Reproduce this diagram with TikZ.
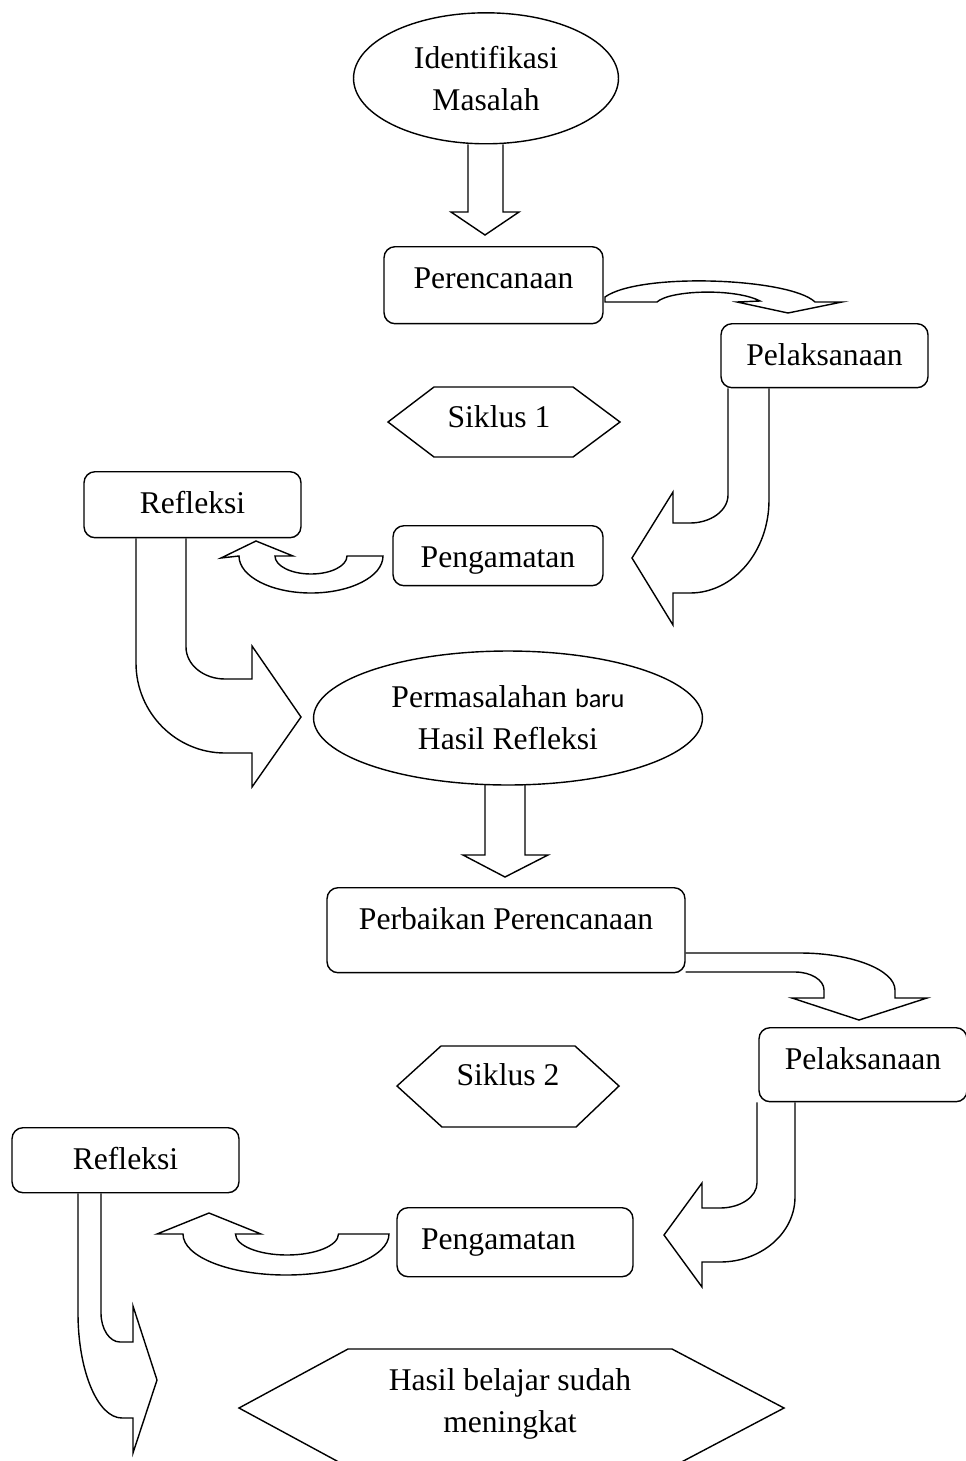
\documentclass[tikz,border=0pt]{standalone}
\usepackage{fontspec}
\setmainfont{Liberation Serif}
\newfontfamily\carlitofont{Carlito}
\usetikzlibrary{shapes.geometric}

\begin{document}
\begin{tikzpicture}[x=0.02cm,y=-0.02cm,line width=0.8pt,
  font=\fontsize{18}{23.9}\selectfont,
  box/.style={draw,rounded corners=0.22cm,anchor=north,inner sep=0pt,text height=0.84cm},
  oval/.style={draw,ellipse,inner sep=0pt,align=center},
  blockarrow/.style={draw,line join=miter}]
\useasboundingbox (0,0) rectangle (966,1461);

% siklus 1
\node[oval,minimum width=5.3cm,minimum height=2.62cm] (ident) at (486,78.3) {Identifikasi\\Masalah};
\node[box,minimum width=4.38cm,text depth=0.70cm] (plan1) at (493.5,246) {Perencanaan};
\node[box,minimum width=4.14cm,text depth=0.44cm] (pel1) at (824.5,323) {Pelaksanaan};
\draw (388,422) -- (434,387) -- (573,387) -- (620,422) -- (573,457) -- (434,457) -- cycle;
\node[anchor=base] (siklus1) at (499,427) {Siklus 1};
\node[box,minimum width=4.34cm,text depth=0.48cm] (refl1) at (192.5,471) {Refleksi};
\node[box,minimum width=4.2cm,text depth=0.36cm] (peng1) at (498,525) {Pengamatan};
\node[oval,minimum width=7.78cm,minimum height=2.68cm] (perm) at (508,718) {Permasalahan {\carlitofont\fontsize{15}{23.9}\selectfont baru}\\Hasil Refleksi};

% siklus 2
\node[box,minimum width=7.16cm,text depth=0.86cm] (perb) at (506,887) {Perbaikan Perencanaan};
\node[box,minimum width=4.16cm,text depth=0.64cm] (pel2) at (863,1027) {Pelaksanaan};
\draw (397,1086) -- (441,1046) -- (575,1046) -- (619,1086) -- (576,1127) -- (442,1127) -- cycle;
\node[anchor=base] (siklus2) at (508,1085) {Siklus 2};
\node[box,minimum width=4.54cm,text depth=0.46cm] (refl2) at (125.5,1127) {Refleksi};
\node[box,text width=3.76cm,align=left,inner xsep=0.48cm,text depth=0.54cm] (peng2) at (515,1207) {Pengamatan};
\draw (239,1408) -- (348,1349) -- (672,1349) -- (784,1408) -- (672,1467) -- (348,1467) -- cycle;
\node[align=center] (hasil) at (510,1403.7) {Hasil belajar sudah\\meningkat};

% block arrows
\draw[blockarrow] (468,0 |- ident.south) -- (468,212) -- (451,212) -- (485,235) -- (519,212) -- (503,212) -- (503,0 |- ident.south);
\draw[blockarrow] (605,302) -- (657,302) .. controls (670,290) and (735,288) .. (760,301) -- (737,302) -- (788,313) -- (842,302) -- (815,302) .. controls (790,278) and (640,272) .. (605,297) -- cycle;
\draw[blockarrow] (728,0 |- pel1.south) -- (728,495) .. controls (728,510.5) and (711,523) .. (690,523) -- (673,523) -- (673,492) -- (632,558) -- (673,625) -- (673,593) -- (690,593) .. controls (733.6,593) and (769,551.3) .. (769,500) -- (769,0 |- pel1.south);
\draw[blockarrow] (383,556) arc[start angle=0,end angle=180,x radius=72,y radius=37] -- (221,558) -- (256,541) -- (293,556) -- (275,556) arc[start angle=180,end angle=0,x radius=36,y radius=18] -- cycle;
\draw[blockarrow] (136,0 |- refl1.south) -- (136,663) .. controls (136,712.7) and (175.9,753) .. (225,753) -- (252,753) -- (252,787) -- (301,717) -- (252,646) -- (252,679) -- (225,679) .. controls (203.5,679) and (186,664.7) .. (186,647) -- (186,0 |- refl1.south);
\draw[blockarrow] (485,784) -- (485,855) -- (463,855) -- (505,877) -- (548,855) -- (525,855) -- (525,784);
\draw[blockarrow] (perb.east |- 0,953) -- (800,953) .. controls (852,953) and (895,970) .. (895,990) -- (895,998) -- (927,998) -- (859,1020) -- (792,998) -- (824,998) -- (824,990) .. controls (824,980) and (811,972) .. (795,972) -- (perb.east |- 0,972);
\draw[blockarrow] (757,0 |- pel2.south) -- (757,1183) .. controls (757,1196.8) and (740.4,1208) .. (720,1208) -- (702,1208) -- (702,1183) -- (664,1235) -- (702,1287) -- (702,1262) -- (720,1262) .. controls (761.4,1262) and (795,1232.9) .. (795,1197) -- (795,0 |- pel2.south);
\draw[blockarrow] (389,1234) arc[start angle=0,end angle=180,x radius=103,y radius=41] -- (157,1234) -- (209,1213) -- (261,1234) -- (235.5,1234) arc[start angle=180,end angle=0,x radius=51.5,y radius=21] -- cycle;
\draw[blockarrow] (78,0 |- refl2.south) -- (78,1313) .. controls (78,1371) and (97.7,1418) .. (122,1418) -- (133,1418) -- (133,1453) -- (157,1380) -- (133,1306) -- (133,1342) -- (120,1342) .. controls (109.5,1342) and (101,1329) .. (101,1313) -- (101,0 |- refl2.south);
\end{tikzpicture}
\end{document}
